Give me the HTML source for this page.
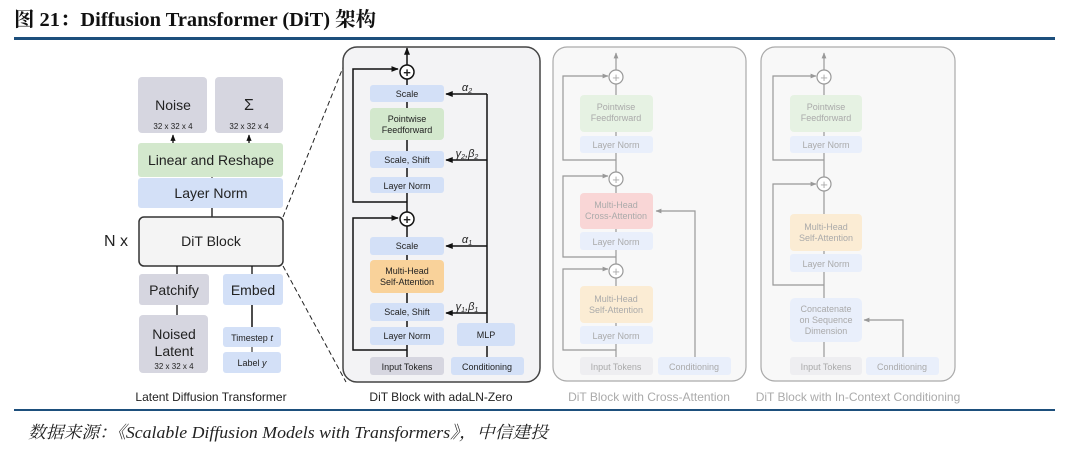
<!DOCTYPE html>
<html><head><meta charset="utf-8"><style>
html,body{margin:0;padding:0;background:#fff;width:1080px;height:456px;overflow:hidden}
svg{display:block}
text{font-family:"Liberation Sans",sans-serif}
</style></head><body>
<svg width="1080" height="456" viewBox="0 0 1080 456" xmlns="http://www.w3.org/2000/svg">
<defs>
<marker id="ah" viewBox="0 0 10 10" refX="9" refY="5" markerWidth="5" markerHeight="5" orient="auto"><path d="M0,1 L10,5 L0,9 z" fill="#111"/></marker>
<marker id="ahg" viewBox="0 0 10 10" refX="9" refY="5" markerWidth="5" markerHeight="5" orient="auto"><path d="M0,1 L10,5 L0,9 z" fill="#999"/></marker>
</defs>
<!-- header -->
<text x="14" y="26" font-weight="bold" font-size="20" fill="#111" textLength="362" lengthAdjust="spacingAndGlyphs" style="font-family:'Liberation Serif','Noto Serif CJK SC',serif">图 21：Diffusion Transformer (DiT)  架构</text>
<rect x="14" y="37" width="1041" height="3" fill="#1d4f7c"/>
<rect x="14" y="409" width="1041" height="2" fill="#1d4f7c"/>
<text x="28" y="438" font-size="17" font-style="italic" fill="#222" textLength="520" lengthAdjust="spacingAndGlyphs" style="font-family:'Liberation Serif','Noto Serif CJK SC',serif">数据来源：《Scalable Diffusion Models with Transformers》，中信建投</text>

<!-- LEFT -->
<g font-size="14" fill="#222" text-anchor="middle">
<rect x="138" y="77" width="69" height="56" rx="4" fill="#d6d6e0"/>
<text x="173" y="110">Noise</text><text x="173" y="129" font-size="8">32 x 32 x 4</text>
<rect x="215" y="77" width="68" height="56" rx="4" fill="#d6d6e0"/>
<text x="249" y="110" font-size="16">Σ</text><text x="249" y="129" font-size="8">32 x 32 x 4</text>
<line x1="173" y1="143" x2="173" y2="135" stroke="#111" stroke-width="1.3" marker-end="url(#ah)"/>
<line x1="249" y1="143" x2="249" y2="135" stroke="#111" stroke-width="1.3" marker-end="url(#ah)"/>
<rect x="138" y="143" width="145" height="34" rx="3" fill="#d3e8cd"/>
<text x="211" y="165">Linear and Reshape</text>
<line x1="212" y1="177" x2="212" y2="178" stroke="#111"/>
<rect x="138" y="178" width="145" height="30" rx="3" fill="#d3e0f7"/>
<text x="211" y="198">Layer Norm</text>
<line x1="212" y1="208" x2="212" y2="217" stroke="#111" stroke-width="1.3"/>
<rect x="139" y="217" width="144" height="49" rx="5" fill="#f4f4f4" stroke="#333" stroke-width="1.5"/>
<text x="211" y="246">DiT Block</text>
<text x="104" y="246" font-size="16" text-anchor="start">N x</text>
<line x1="177" y1="266" x2="177" y2="274" stroke="#111" stroke-width="1.3"/>
<line x1="252" y1="266" x2="252" y2="274" stroke="#111" stroke-width="1.3"/>
<rect x="139" y="274" width="70" height="31" rx="3" fill="#d6d6e0"/>
<text x="174" y="295">Patchify</text>
<rect x="223" y="274" width="60" height="31" rx="3" fill="#d3e0f7"/>
<text x="253" y="295">Embed</text>
<line x1="177" y1="305" x2="177" y2="315" stroke="#111" stroke-width="1.3"/>
<line x1="252" y1="305" x2="252" y2="327" stroke="#111" stroke-width="1.5"/>
<rect x="139" y="315" width="69" height="58" rx="4" fill="#d6d6e0"/>
<text x="174" y="339">Noised</text><text x="174" y="356">Latent</text><text x="174" y="369" font-size="8">32 x 32 x 4</text>
<rect x="223" y="327" width="58" height="20" rx="3" fill="#d3e0f7"/>
<text x="252" y="341" font-size="9">Timestep <tspan font-style="italic">t</tspan></text>
<line x1="252" y1="347" x2="252" y2="352" stroke="#111"/>
<rect x="223" y="352" width="58" height="21" rx="3" fill="#d3e0f7"/>
<text x="252" y="366" font-size="9">Label <tspan font-style="italic">y</tspan></text>
<text x="211" y="401" font-size="12">Latent Diffusion Transformer</text>
</g>
<line x1="283" y1="217" x2="346" y2="60" stroke="#222" stroke-width="1" stroke-dasharray="5,3"/>
<line x1="283" y1="266" x2="346" y2="382" stroke="#222" stroke-width="1" stroke-dasharray="5,3"/>

<!-- MIDDLE -->
<rect x="343" y="47" width="197" height="335" rx="14" fill="#f3f3f5" stroke="#444" stroke-width="1.5"/>
<g stroke="#111" stroke-width="1.5" fill="none">
<line x1="407" y1="65" x2="407" y2="48" marker-end="url(#ah)"/>
<line x1="407" y1="79" x2="407" y2="357"/>
<polyline points="407,202 353,202 353,69 398,69" marker-end="url(#ah)"/>
<polyline points="407,350 353,350 353,218 398,218" marker-end="url(#ah)"/>
<line x1="487" y1="323" x2="487" y2="94"/>
<line x1="487" y1="346" x2="487" y2="357"/>
<line x1="487" y1="94" x2="446" y2="94" marker-end="url(#ah)"/>
<line x1="487" y1="160" x2="446" y2="160" marker-end="url(#ah)"/>
<line x1="487" y1="246" x2="446" y2="246" marker-end="url(#ah)"/>
<line x1="487" y1="313" x2="446" y2="313" marker-end="url(#ah)"/>
</g>
<g text-anchor="middle" font-size="9" fill="#222">
<circle cx="407" cy="72" r="7" fill="#fff" stroke="#111" stroke-width="1.5"/><text x="407" y="77" font-size="13" font-weight="bold">+</text>
<circle cx="407" cy="219" r="7" fill="#fff" stroke="#111" stroke-width="1.5"/><text x="407" y="224" font-size="13" font-weight="bold">+</text>
<rect x="370" y="85" width="74" height="17" rx="3" fill="#d3e0f7"/><text x="407" y="97">Scale</text>
<rect x="370" y="108" width="74" height="32" rx="4" fill="#d3e8cd"/><text x="407" y="122">Pointwise</text><text x="407" y="133">Feedforward</text>
<rect x="370" y="151" width="74" height="17" rx="3" fill="#d3e0f7"/><text x="407" y="163">Scale, Shift</text>
<rect x="370" y="177" width="74" height="16" rx="3" fill="#d3e0f7"/><text x="407" y="189">Layer Norm</text>
<rect x="370" y="237" width="74" height="18" rx="3" fill="#d3e0f7"/><text x="407" y="249">Scale</text>
<rect x="370" y="260" width="74" height="33" rx="4" fill="#f9d29a"/><text x="407" y="274">Multi-Head</text><text x="407" y="285">Self-Attention</text>
<rect x="370" y="303" width="74" height="18" rx="3" fill="#d3e0f7"/><text x="407" y="315">Scale, Shift</text>
<rect x="370" y="327" width="74" height="18" rx="3" fill="#d3e0f7"/><text x="407" y="339">Layer Norm</text>
<rect x="370" y="357" width="74" height="18" rx="3" fill="#d6d6e0"/><text x="407" y="370">Input Tokens</text>
<rect x="457" y="323" width="58" height="23" rx="3" fill="#d3e0f7"/><text x="486" y="338">MLP</text>
<rect x="451" y="357" width="73" height="18" rx="3" fill="#d3e0f7"/><text x="487" y="370">Conditioning</text>
<g font-style="italic" font-size="11" style="font-family:'Liberation Serif',serif">
<text x="467" y="91">α<tspan font-size="7" dy="2">2</tspan></text>
<text x="467" y="157">γ<tspan font-size="7" dy="2">2</tspan><tspan dy="-2">,β</tspan><tspan font-size="7" dy="2">2</tspan></text>
<text x="467" y="243">α<tspan font-size="7" dy="2">1</tspan></text>
<text x="467" y="310">γ<tspan font-size="7" dy="2">1</tspan><tspan dy="-2">,β</tspan><tspan font-size="7" dy="2">1</tspan></text>
</g>
<text x="441" y="401" font-size="12">DiT Block with adaLN-Zero</text>
</g>

<!-- PANEL 3 -->
<rect x="553" y="47" width="193" height="334" rx="14" fill="#f8f8f8" stroke="#aaa" stroke-width="1.2"/>
<g stroke="#999" stroke-width="1.2" fill="none">
<line x1="616" y1="70" x2="616" y2="53" marker-end="url(#ahg)"/>
<line x1="616" y1="84" x2="616" y2="357"/>
<polyline points="616,160 563,160 563,76 608,76" marker-end="url(#ahg)"/>
<polyline points="616,257 563,257 563,176 608,176" marker-end="url(#ahg)"/>
<polyline points="616,350 563,350 563,269 608,269" marker-end="url(#ahg)"/>
<polyline points="695,357 695,211 656,211" marker-end="url(#ahg)"/>
</g>
<g text-anchor="middle" font-size="9" fill="#aaa">
<circle cx="616" cy="77" r="7" fill="#fff" stroke="#999" stroke-width="1.2"/><text x="616" y="82" font-size="13">+</text>
<circle cx="616" cy="179" r="7" fill="#fff" stroke="#999" stroke-width="1.2"/><text x="616" y="184" font-size="13">+</text>
<circle cx="616" cy="271" r="7" fill="#fff" stroke="#999" stroke-width="1.2"/><text x="616" y="276" font-size="13">+</text>
<rect x="580" y="95" width="73" height="37" rx="4" fill="#e6f2e3"/><text x="616" y="110">Pointwise</text><text x="616" y="121">Feedforward</text>
<rect x="580" y="136" width="73" height="17" rx="3" fill="#e9effb"/><text x="616" y="148">Layer Norm</text>
<rect x="580" y="193" width="73" height="36" rx="4" fill="#f9d6d6"/><text x="616" y="208">Multi-Head</text><text x="616" y="219">Cross-Attention</text>
<rect x="580" y="232" width="73" height="18" rx="3" fill="#e9effb"/><text x="616" y="245">Layer Norm</text>
<rect x="580" y="286" width="73" height="37" rx="4" fill="#fbecd4"/><text x="616" y="302">Multi-Head</text><text x="616" y="313">Self-Attention</text>
<rect x="580" y="326" width="73" height="18" rx="3" fill="#e9effb"/><text x="616" y="339">Layer Norm</text>
<rect x="580" y="357" width="73" height="18" rx="3" fill="#eeeef1"/><text x="616" y="370">Input Tokens</text>
<rect x="658" y="357" width="73" height="18" rx="3" fill="#e9effb"/><text x="694" y="370">Conditioning</text>
<text x="649" y="401" font-size="12">DiT Block with Cross-Attention</text>
</g>

<!-- PANEL 4 -->
<rect x="761" y="47" width="194" height="334" rx="14" fill="#f8f8f8" stroke="#aaa" stroke-width="1.2"/>
<g stroke="#999" stroke-width="1.2" fill="none">
<line x1="824" y1="70" x2="824" y2="53" marker-end="url(#ahg)"/>
<line x1="824" y1="84" x2="824" y2="357"/>
<polyline points="824,160 773,160 773,76 816,76" marker-end="url(#ahg)"/>
<polyline points="824,285 773,285 773,184 816,184" marker-end="url(#ahg)"/>
<polyline points="903,357 903,320 864,320" marker-end="url(#ahg)"/>
</g>
<g text-anchor="middle" font-size="9" fill="#aaa">
<circle cx="824" cy="77" r="7" fill="#fff" stroke="#999" stroke-width="1.2"/><text x="824" y="82" font-size="13">+</text>
<circle cx="824" cy="184" r="7" fill="#fff" stroke="#999" stroke-width="1.2"/><text x="824" y="189" font-size="13">+</text>
<rect x="790" y="95" width="72" height="37" rx="4" fill="#e6f2e3"/><text x="826" y="110">Pointwise</text><text x="826" y="121">Feedforward</text>
<rect x="790" y="136" width="72" height="17" rx="3" fill="#e9effb"/><text x="826" y="148">Layer Norm</text>
<rect x="790" y="214" width="72" height="37" rx="4" fill="#fbecd4"/><text x="826" y="230">Multi-Head</text><text x="826" y="241">Self-Attention</text>
<rect x="790" y="254" width="72" height="18" rx="3" fill="#e9effb"/><text x="826" y="267">Layer Norm</text>
<rect x="790" y="298" width="72" height="44" rx="5" fill="#e9effb"/><text x="826" y="312">Concatenate</text><text x="826" y="323">on Sequence</text><text x="826" y="334">Dimension</text>
<rect x="790" y="357" width="72" height="18" rx="3" fill="#eeeef1"/><text x="826" y="370">Input Tokens</text>
<rect x="866" y="357" width="73" height="18" rx="3" fill="#e9effb"/><text x="902" y="370">Conditioning</text>
<text x="858" y="401" font-size="12">DiT Block with In-Context Conditioning</text>
</g>
</svg>
</body></html>
